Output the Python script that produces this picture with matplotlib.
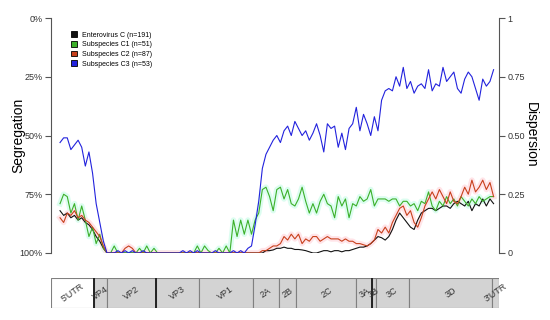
import numpy as np
import matplotlib.pyplot as plt
from matplotlib.patches import Patch, Rectangle

plt.rcParams['font.family'] = ['Liberation Sans', 'DejaVu Sans']

# Daten
#======
# Fensterpositionen im Genom (nt)
pos = np.arange(150, 7351, 60)

entC = [0.18, 0.16, 0.17, 0.15, 0.16, 0.14, 0.15, 0.13, 0.12, 0.10,
        0.07, 0.05, 0.02, 0.0, 0.0, 0.0, 0.0, 0.0, 0.0, 0.0,
        0.0, 0.0, 0.0, 0.0, 0.0, 0.0, 0.0, 0.0, 0.0, 0.0,
        0.0, 0.0, 0.0, 0.0, 0.0, 0.0, 0.0, 0.0, 0.0, 0.0,
        0.0, 0.0, 0.0, 0.0, 0.0, 0.0, 0.0, 0.0, 0.0, 0.0,
        0.0, 0.0, 0.0, 0.0, 0.0, 0.0, 0.0, 0.01, 0.01, 0.013,
        0.02, 0.02, 0.025, 0.02, 0.02, 0.015, 0.015, 0.013, 0.01, 0.005,
        0.0, 0.0, 0.005, 0.01, 0.01, 0.005, 0.01, 0.01, 0.005, 0.01,
        0.01, 0.015, 0.02, 0.025, 0.025, 0.03, 0.04, 0.055, 0.07, 0.065,
        0.055, 0.07, 0.10, 0.14, 0.17, 0.15, 0.13, 0.11, 0.10, 0.14,
        0.17, 0.18, 0.19, 0.19, 0.18, 0.19, 0.20, 0.20, 0.19, 0.21,
        0.22, 0.21, 0.20, 0.22, 0.18, 0.21, 0.20, 0.23, 0.20, 0.23,
        0.21]

subC1 = [0.21, 0.25, 0.24, 0.17, 0.21, 0.14, 0.20, 0.14, 0.07, 0.11,
         0.04, 0.08, 0.02, 0.0, 0.0, 0.03, 0.0, 0.0, 0.0, 0.0,
         0.0, 0.0, 0.02, 0.0, 0.03, 0.0, 0.02, 0.0, 0.0, 0.0,
         0.0, 0.0, 0.0, 0.0, 0.0, 0.0, 0.0, 0.0, 0.03, 0.0,
         0.03, 0.01, 0.0, 0.0, 0.02, 0.0, 0.03, 0.0, 0.14, 0.07,
         0.14, 0.08, 0.14, 0.08, 0.14, 0.17, 0.27, 0.28, 0.24, 0.18,
         0.27, 0.28, 0.23, 0.27, 0.21, 0.20, 0.23, 0.28, 0.22, 0.17,
         0.21, 0.17, 0.22, 0.25, 0.21, 0.20, 0.15, 0.24, 0.20, 0.23,
         0.15, 0.21, 0.20, 0.24, 0.22, 0.23, 0.27, 0.20, 0.23, 0.23,
         0.23, 0.22, 0.23, 0.23, 0.20, 0.22, 0.22, 0.20, 0.21, 0.18,
         0.22, 0.21, 0.26, 0.20, 0.18, 0.22, 0.20, 0.24, 0.21, 0.23,
         0.20, 0.24, 0.22, 0.20, 0.23, 0.21, 0.24, 0.22, 0.23, 0.24,
         0.24]

subC2 = [0.15, 0.13, 0.17, 0.16, 0.18, 0.15, 0.16, 0.14, 0.13, 0.11,
         0.09, 0.07, 0.03, 0.0, 0.0, 0.0, 0.0, 0.0, 0.02, 0.03,
         0.02, 0.0, 0.0, 0.0, 0.0, 0.0, 0.0, 0.0, 0.0, 0.0,
         0.0, 0.0, 0.0, 0.0, 0.0, 0.0, 0.0, 0.0, 0.0, 0.0,
         0.0, 0.0, 0.0, 0.0, 0.0, 0.0, 0.0, 0.0, 0.0, 0.0,
         0.0, 0.0, 0.0, 0.0, 0.0, 0.0, 0.01, 0.01, 0.02, 0.03,
         0.03, 0.04, 0.07, 0.055, 0.08, 0.06, 0.08, 0.04, 0.06, 0.05,
         0.07, 0.07, 0.05, 0.06, 0.07, 0.06, 0.06, 0.06, 0.05, 0.06,
         0.05, 0.05, 0.04, 0.04, 0.035, 0.03, 0.04, 0.055, 0.10, 0.085,
         0.11, 0.085, 0.13, 0.16, 0.19, 0.20, 0.16, 0.18, 0.13, 0.11,
         0.15, 0.20, 0.23, 0.26, 0.23, 0.27, 0.24, 0.21, 0.26, 0.22,
         0.21, 0.24, 0.28, 0.25, 0.31, 0.26, 0.28, 0.31, 0.27, 0.30,
         0.24]

subC3 = [0.47, 0.49, 0.49, 0.44, 0.46, 0.48, 0.45, 0.37, 0.43, 0.34,
         0.21, 0.13, 0.05, 0.0, 0.0, 0.0, 0.01, 0.0, 0.01, 0.0,
         0.01, 0.0, 0.0, 0.01, 0.0, 0.0, 0.0, 0.0, 0.0, 0.0,
         0.0, 0.0, 0.0, 0.0, 0.01, 0.0, 0.01, 0.0, 0.01, 0.0,
         0.0, 0.0, 0.0, 0.01, 0.0, 0.0, 0.0, 0.0, 0.01, 0.0,
         0.01, 0.0, 0.02, 0.03, 0.12, 0.22, 0.36, 0.42, 0.45, 0.48,
         0.50, 0.47, 0.52, 0.54, 0.50, 0.56, 0.53, 0.50, 0.52, 0.48,
         0.51, 0.55, 0.50, 0.43, 0.55, 0.53, 0.54, 0.45, 0.51, 0.44,
         0.53, 0.55, 0.62, 0.52, 0.59, 0.55, 0.50, 0.58, 0.52, 0.65,
         0.69, 0.70, 0.69, 0.75, 0.71, 0.79, 0.70, 0.73, 0.68, 0.71,
         0.72, 0.70, 0.78, 0.69, 0.72, 0.71, 0.79, 0.73, 0.75, 0.77,
         0.70, 0.68, 0.74, 0.77, 0.75, 0.70, 0.65, 0.74, 0.71, 0.73,
         0.78]

seriesNames = ['Enterovirus C (n=191)', 'Subspecies C1 (n=51)',
               'Subspecies C2 (n=87)', 'Subspecies C3 (n=53)']
seriesColors = ['#111111', '#3cb02a', '#c8401c', '#2222dd']
haloColors = [None, '#dcfdf0', '#ffe4e8', None]

# Genomregionen
regionNames = ["5'UTR", 'VP4', 'VP2', 'VP3', 'VP1', '2A', '2B', '2C',
               '3A', '3B', '3C', '3D', "3'UTR"]
regionStart = [0, 719, 924, 1737, 2461, 3347, 3789, 4077, 5073, 5332,
               5393, 5946, 7330]
genomeLen = 7440
boldBounds = [719, 1737, 5332]

# Plot
#=====
fig = plt.figure(figsize=(5.5, 3.2), dpi=100)
ax = fig.add_axes([51/550, 1 - 253/320, 448/550, 235/320])

# Linke Achse: Segregation (zuerst anlegen, twinx setzt die Ticks um)
axL = ax.twinx()
axL.set_ylim(1, 0)
axL.yaxis.tick_left()
axL.set_yticks([0, 0.25, 0.5, 0.75, 1])
axL.set_yticklabels(['0%', '25%', '50%', '75%', '100%'])
for s in ['top', 'bottom', 'right']:
    axL.spines[s].set_visible(False)
axL.spines['left'].set_color('#555555')
axL.tick_params(axis='y', colors='#555555', labelcolor='#333333',
                labelsize=6.5, length=4, width=0.8, pad=2)

data = [entC, subC1, subC2, subC3]
for vals, col, halo in zip(data, seriesColors, haloColors):
    if halo is not None:
        ax.plot(pos, vals, color=halo, lw=4, solid_joinstyle='round', zorder=1)
for vals, col in zip(data, seriesColors):
    ax.plot(pos, vals, color=col, lw=0.8, zorder=2)

# Rechte Achse: Dispersion
ax.set_xlim(0, genomeLen)
ax.set_ylim(0, 1)
ax.yaxis.tick_right()
ax.set_yticks([0, 0.25, 0.5, 0.75, 1])
ax.set_yticklabels(['0', '0.25', '0.50', '0.75', '1'])
ax.set_xticks([])
for s in ['top', 'bottom', 'left']:
    ax.spines[s].set_visible(False)
ax.spines['right'].set_color('#555555')
ax.tick_params(axis='y', colors='#555555', labelcolor='#333333',
               labelsize=6.5, length=4, width=0.8, pad=2)

# Achsentitel
fig.text(18/550, 1 - 135/320, 'Segregation', rotation=90, fontsize=10,
         ha='center', va='center')
fig.text(531/550, 1 - 135/320, 'Dispersion', rotation=270, fontsize=10,
         ha='center', va='center')

handles = [Patch(facecolor=c, edgecolor='black', lw=0.6) for c in seriesColors]
ax.legend(handles, seriesNames, loc='upper left', bbox_to_anchor=(0.03, 0.97),
          frameon=False, fontsize=5, handlelength=0.9, handleheight=0.9,
          handletextpad=0.8, labelspacing=0.35)

# Genomkarte
#-----------
axG = fig.add_axes([51/550, 1 - 308/320, 448/550, 30/320])
regionEnd = regionStart[1:] + [genomeLen]
for name, a, b in zip(regionNames, regionStart, regionEnd):
    fc = 'white' if name == "5'UTR" else '#d3d3d3'
    axG.add_patch(Rectangle((a, 0), b - a, 1, facecolor=fc,
                            edgecolor='#808080', lw=0.8))
    axG.text((a + b) / 2, 0.5, name, rotation=35, ha='center', va='center',
             fontsize=6.5, color='#333333')
for b in boldBounds:
    axG.plot([b, b], [0, 1], color='#222222', lw=1.4)
axG.set_xlim(0, genomeLen)
axG.set_ylim(0, 1)
axG.axis('off')

fig.savefig('out.png', dpi=100)
